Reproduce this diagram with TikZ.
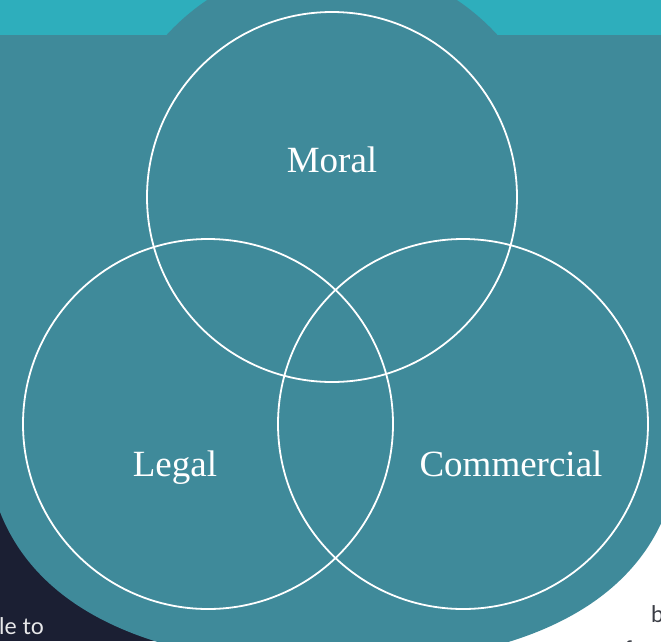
\documentclass[tikz,border=0pt]{standalone}
\usepackage{fontspec}
\setmainfont{Liberation Serif}
\newfontfamily\uisans{Lato}
\definecolor{topband}{HTML}{2EAEBC}
\definecolor{mainteal}{HTML}{3F8A9A}
\definecolor{navy}{HTML}{1B1F33}
\definecolor{bodygray}{HTML}{3A3D45}
\definecolor{lightgray}{HTML}{E8E8EA}
\begin{document}
\begin{tikzpicture}[x=1pt,y=-1pt,
  venn/.style={draw=white,line width=1.8pt},
  lbl/.style={text=white,font=\fontsize{37}{42}\selectfont,anchor=base,inner sep=0pt},
  bodytxt/.style={font=\uisans\fontsize{23}{27}\selectfont,anchor=base west,inner sep=0pt}]
\useasboundingbox (0,0) rectangle (661,641);
\clip (0,0) rectangle (661,641);
% backgrounds
\fill[white] (0,0) rectangle (661,641);
\fill[navy] (0,35) rectangle (333,641);
\fill[topband] (0,0) rectangle (661,35);
\fill[mainteal] (-5,35) -- (666,35) -- (666,512)
  .. controls (622,624) and (486,665) .. (333,665)
  .. controls (180,665) and (44,624) .. (0,512) -- (-5,512) -- cycle;
\fill[mainteal] (332,186) circle[radius=224pt];
% venn circles
\draw[venn] (332,197) circle[radius=185pt];
\draw[venn] (208,424) circle[radius=185pt];
\draw[venn] (463,424) circle[radius=185pt];
% labels
\node[lbl] (moral) at (332,172) {Moral};
\node[lbl] (legal) at (175,476) {Legal};
\node[lbl] (commercial) at (511,476) {Commercial};
% page text fragments
\node[bodytxt,text=lightgray] (leftfrag) at (-1,634) {le to};
\node[bodytxt,text=bodygray] (rightfragb) at (651,622) {b};
\node[bodytxt,text=bodygray] (rightfragf) at (624,657) {f};
\end{tikzpicture}
\end{document}
